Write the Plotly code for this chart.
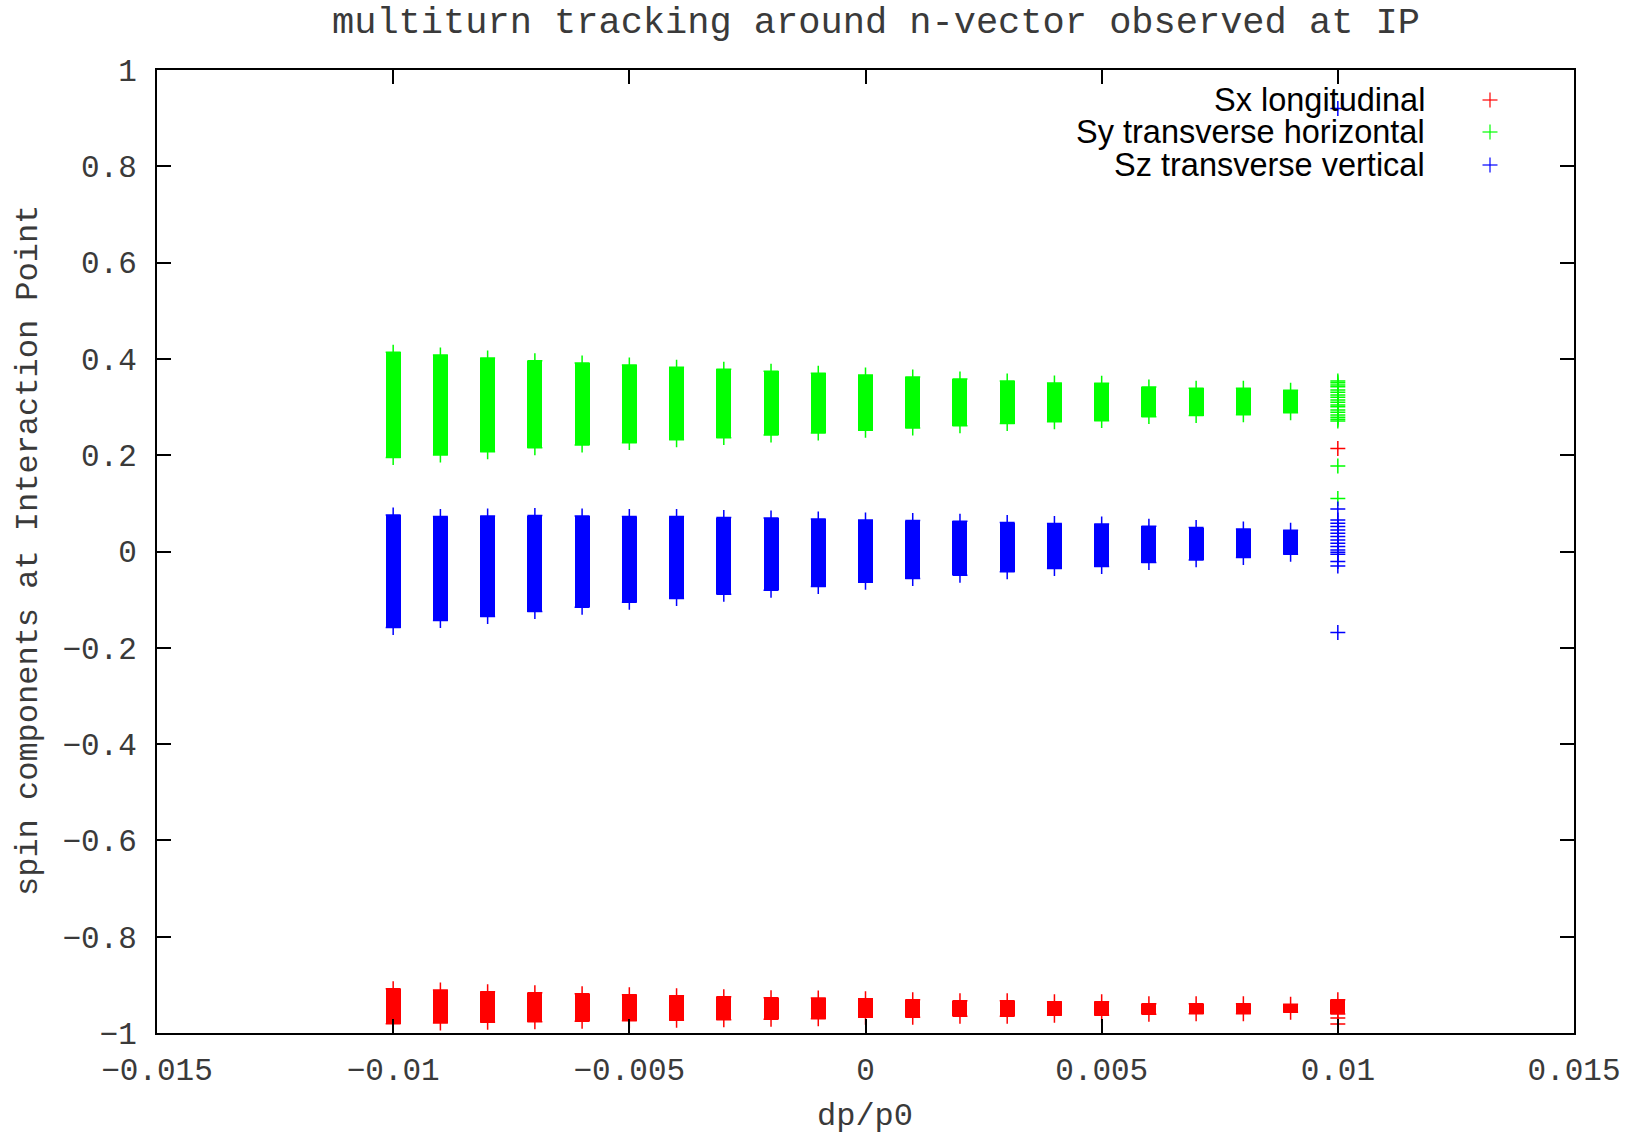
import plotly.graph_objects as go

# momentum offsets of the tracked particles
dp = [-0.010, -0.009, -0.008, -0.007, -0.006, -0.005, -0.004, -0.003, -0.002, -0.001,
      0.000, 0.001, 0.002, 0.003, 0.004, 0.005, 0.006, 0.007, 0.008, 0.009]
dp_sx = dp + [0.010]

# spread (min / max over turns) of each spin component per momentum offset
sx_min = [-0.9806, -0.9792, -0.9778, -0.9764, -0.9757, -0.9744, -0.9737, -0.9723, -0.9716, -0.9702,
          -0.9675, -0.9675, -0.9654, -0.9654, -0.9633, -0.9633, -0.9612, -0.9598, -0.9598, -0.9571,
          -0.9605]
sx_max = [-0.9079, -0.9107, -0.9142, -0.9162, -0.9183, -0.9204, -0.9225, -0.9245, -0.9266, -0.9273,
          -0.9287, -0.9308, -0.9328, -0.9328, -0.9349, -0.9349, -0.9391, -0.9391, -0.9391, -0.9405,
          -0.9308]
sy_min = [0.1950, 0.2005, 0.2074, 0.2157, 0.2213, 0.2261, 0.2323, 0.2365, 0.2420, 0.2462,
          0.2517, 0.2566, 0.2614, 0.2656, 0.2697, 0.2718, 0.2801, 0.2822, 0.2842, 0.2884]
sy_max = [0.4136, 0.4080, 0.4019, 0.3963, 0.3915, 0.3873, 0.3825, 0.3784, 0.3742, 0.3700,
          0.3666, 0.3624, 0.3583, 0.3541, 0.3500, 0.3493, 0.3417, 0.3389, 0.3389, 0.3348]
sz_min = [-0.1580, -0.1434, -0.1351, -0.1247, -0.1157, -0.1053, -0.0977, -0.0887, -0.0804, -0.0728,
          -0.0638, -0.0562, -0.0493, -0.0423, -0.0354, -0.0313, -0.0230, -0.0174, -0.0126, -0.0057]
sz_max = [0.0760, 0.0725, 0.0739, 0.0746, 0.0739, 0.0725, 0.0725, 0.0704, 0.0697, 0.0677,
          0.0656, 0.0642, 0.0628, 0.0600, 0.0580, 0.0573, 0.0525, 0.0497, 0.0469, 0.0442]

# individual turns recorded at the largest offset
dp_edge = 0.010
sx_edge = [0.2137, -0.9688, -0.9813]
sy_edge = [0.3541, 0.3507, 0.3458, 0.3424, 0.3354, 0.3306, 0.3251, 0.3202, 0.3147, 0.3099,
           0.3043, 0.3008, 0.2939, 0.2891, 0.2835, 0.2787, 0.2746, 0.2711, 0.1777, 0.1099]
sz_edge = [0.9200, 0.0884, 0.0656, 0.0587, 0.0517, 0.0448, 0.0379, 0.0310, 0.0241, 0.0172,
           0.0102, 0.0033, -0.0015, -0.0057, -0.0209, -0.0299, -0.1683]

names = ["Sx longitudinal", "Sy transverse horizontal", "Sz transverse vertical"]
colors = ["#ff0000", "#00ff00", "#0000ff"]

x_ticks = [-0.015, -0.01, -0.005, 0, 0.005, 0.01, 0.015]
x_ticklabels = ["\u22120.015", "\u22120.01", "\u22120.005", "0", "0.005", "0.01", "0.015"]
y_ticks = [-1, -0.8, -0.6, -0.4, -0.2, 0, 0.2, 0.4, 0.6, 0.8, 1]
y_ticklabels = ["\u22121", "\u22120.8", "\u22120.6", "\u22120.4", "\u22120.2", "0",
                "0.2", "0.4", "0.6", "0.8", "1"]

MONO = "Liberation Mono"
SANS = "Liberation Sans"
TXT = "#3a3a3a"

W, H = 1635, 1134
ML, MR, MT, MB = 157, 61, 70, 101
plot_w = W - ML - MR
plot_h = H - MT - MB
x_range = [-0.015, 0.015]
band_w = 15 * (x_range[1] - x_range[0]) / plot_w   # marker-wide band
cross_size = 10.7
cross_lw = 1.5

fig = go.Figure()


def add_series(xs, lo, hi, color):
    fig.add_trace(go.Bar(
        x=xs, base=lo, y=[h - l for l, h in zip(lo, hi)], width=band_w,
        marker=dict(color=color, line=dict(width=0)), showlegend=False, hoverinfo="skip"))
    fig.add_trace(go.Scatter(
        x=xs + xs, y=lo + hi, mode="markers", showlegend=False,
        marker=dict(symbol="cross-thin", size=cross_size, color=color,
                    line=dict(color=color, width=cross_lw))))


def add_points(values, color):
    fig.add_trace(go.Scatter(
        x=[dp_edge] * len(values), y=values, mode="markers", showlegend=False,
        marker=dict(symbol="cross-thin", size=cross_size, color=color,
                    line=dict(color=color, width=cross_lw))))


add_series(dp_sx, sx_min, sx_max, colors[0])
add_points(sx_edge, colors[0])
add_series(dp, sy_min, sy_max, colors[1])
add_points(sy_edge, colors[1])
add_series(dp, sz_min, sz_max, colors[2])
add_points(sz_edge, colors[2])


def px_to_paper_x(px):
    return (px - ML) / plot_w


def px_to_paper_y(py):
    return (H - MB - py) / plot_h


annotations = [
    dict(text="multiturn tracking around n-vector observed at IP", x=px_to_paper_x(876),
         y=px_to_paper_y(23), xref="paper", yref="paper", showarrow=False,
         xanchor="center", yanchor="middle", font=dict(family=MONO, size=37, color=TXT)),
    dict(text="dp/p0", x=px_to_paper_x(865), y=px_to_paper_y(1116), xref="paper", yref="paper",
         showarrow=False, xanchor="center", yanchor="middle",
         font=dict(family=MONO, size=32, color=TXT)),
    dict(text="spin components at Interaction Point", x=px_to_paper_x(28), y=px_to_paper_y(551),
         xref="paper", yref="paper", showarrow=False, textangle=-90, xanchor="center",
         yanchor="middle", font=dict(family=MONO, size=32, color=TXT)),
]

shapes = []
legend_rows = [100, 132, 165]
for name, color, row in zip(names, colors, legend_rows):
    annotations.append(dict(text=name, x=px_to_paper_x(1427), y=px_to_paper_y(row),
                            xref="paper", yref="paper", showarrow=False, xanchor="right",
                            yanchor="middle", font=dict(family=SANS, size=32.5, color="#000000")))
    ax, ay = px_to_paper_x(1490), px_to_paper_y(row)
    for (x0, x1, y0, y1) in [(-7.5, 7.5, 0, 0), (0, 0, -7.5, 7.5)]:
        shapes.append(dict(type="line", xref="paper", yref="paper", xsizemode="pixel",
                           ysizemode="pixel", xanchor=ax, yanchor=ay, x0=x0, x1=x1,
                           y0=y0, y1=y1, line=dict(color=color, width=1.2)))

axis_common = dict(showline=True, linecolor="#000000", linewidth=2, mirror="ticks",
                   ticks="inside", ticklen=14, tickwidth=2, tickcolor="#000000",
                   showgrid=False, zeroline=False,
                   tickfont=dict(family=MONO, size=31, color=TXT))

fig.update_layout(
    width=W, height=H,
    margin=dict(l=ML, r=MR, t=MT, b=MB, autoexpand=False),
    paper_bgcolor="#ffffff", plot_bgcolor="#ffffff",
    barmode="overlay", bargap=0,
    showlegend=False,
    xaxis=dict(range=x_range, tickvals=x_ticks, ticktext=x_ticklabels,
               ticklabelstandoff=8, **axis_common),
    yaxis=dict(range=[-1, 1], tickvals=y_ticks, ticktext=y_ticklabels,
               ticklabelstandoff=12, **axis_common),
    annotations=annotations,
    shapes=shapes,
)

fig.write_html("out.html")
